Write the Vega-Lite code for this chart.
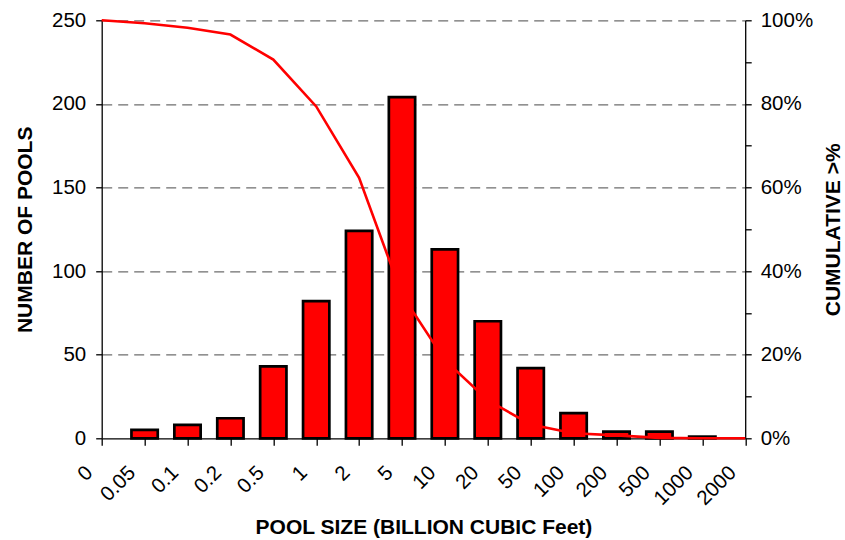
{
  "$schema": "https://vega.github.io/schema/vega-lite/v6.json",
  "width": 643.5,
  "height": 418,
  "autosize": {"type": "none"},
  "padding": {"left": 101.7, "top": 20.3, "right": 99.8, "bottom": 101.7},
  "background": "white",
  "config": {
    "view": {"stroke": null},
    "font": "Liberation Sans",
    "axis": {
      "labelFont": "Liberation Sans",
      "titleFont": "Liberation Sans",
      "labelColor": "#000",
      "titleColor": "#000",
      "domainColor": "#000",
      "tickColor": "#000",
      "labelFontSize": 20.5,
      "titleFontSize": 21,
      "titleFontWeight": "bold",
      "domainWidth": 1.3,
      "tickWidth": 1.3
    }
  },
  "data": {
    "values": [
      {"size": "0", "pools": null, "cumulative": 1.0},
      {"size": "0.05", "pools": 5, "cumulative": 0.993},
      {"size": "0.1", "pools": 8, "cumulative": 0.982},
      {"size": "0.2", "pools": 12, "cumulative": 0.966},
      {"size": "0.5", "pools": 43, "cumulative": 0.906},
      {"size": "1", "pools": 82, "cumulative": 0.794},
      {"size": "2", "pools": 124, "cumulative": 0.623},
      {"size": "5", "pools": 204, "cumulative": 0.343},
      {"size": "10", "pools": 113, "cumulative": 0.187},
      {"size": "20", "pools": 70, "cumulative": 0.091},
      {"size": "50", "pools": 42, "cumulative": 0.033},
      {"size": "100", "pools": 15, "cumulative": 0.012},
      {"size": "200", "pools": 4, "cumulative": 0.007},
      {"size": "500", "pools": 4, "cumulative": 0.001},
      {"size": "1000", "pools": 1, "cumulative": 0.0},
      {"size": "2000", "pools": null, "cumulative": 0.0}
    ]
  },
  "encoding": {
    "x": {
      "field": "size",
      "type": "ordinal",
      "sort": null,
      "scale": {
        "type": "point",
        "padding": 0,
        "domain": ["0", "0.05", "0.1", "0.2", "0.5", "1", "2", "5", "10", "20", "50", "100", "200", "500", "1000", "2000"]
      },
      "axis": {
        "title": "POOL SIZE (BILLION CUBIC Feet)",
        "labelAngle": -45,
        "labelAlign": "right",
        "labelBaseline": "middle",
        "labelPadding": 24,
        "labelOffset": -12.7,
        "tickSize": 7,
        "grid": false,
        "titleBaseline": "top",
        "titleY": 78
      }
    }
  },
  "layer": [
    {
      "mark": {"type": "bar", "width": 26.3, "fill": "#ff0000", "stroke": "#000", "strokeWidth": 2.7},
      "encoding": {
        "y": {
          "field": "pools",
          "type": "quantitative",
          "scale": {"domain": [0, 250]},
          "axis": {
            "title": "NUMBER OF POOLS",
            "values": [0, 50, 100, 150, 200, 250],
            "tickSize": 6,
            "labelPadding": 10,
            "titlePadding": 16,
            "grid": true,
            "gridColor": "#6e6e6e",
            "gridWidth": 1.3,
            "gridDash": [10, 6],
            "gridOpacity": {"condition": {"test": "datum.value === 0", "value": 0}, "value": 1}
          }
        }
      }
    },
    {
      "mark": {"type": "line", "color": "#ff0000", "strokeWidth": 2.6},
      "encoding": {
        "y": {
          "field": "cumulative",
          "type": "quantitative",
          "scale": {"domain": [0, 1]},
          "axis": {
            "title": "CUMULATIVE >%",
            "orient": "right",
            "titleAngle": -90,
            "titleBaseline": "top",
            "values": [0, 0.1, 0.2, 0.3, 0.4, 0.5, 0.6, 0.7, 0.8, 0.9, 1],
            "labelExpr": "round(datum.value * 10) % 2 === 0 ? format(datum.value, '.0%') : ''",
            "tickSize": 6,
            "labelPadding": 9,
            "titlePadding": 10,
            "grid": false
          }
        }
      }
    }
  ],
  "resolve": {"scale": {"y": "independent"}}
}
